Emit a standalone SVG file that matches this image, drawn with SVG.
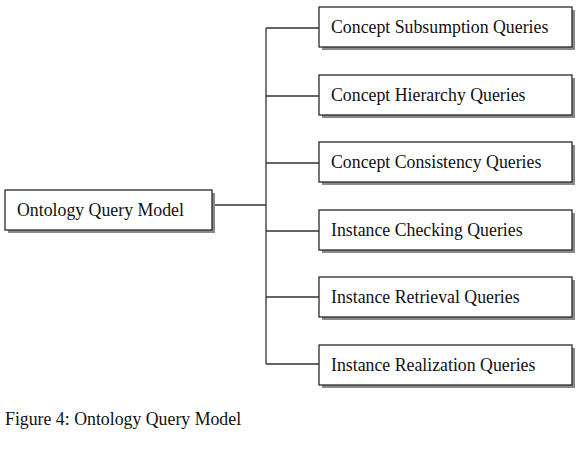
<svg xmlns="http://www.w3.org/2000/svg" width="588" height="454" viewBox="0 0 588 454">
<style>
.box{fill:#fff;stroke:#2a2a2a;stroke-width:1.3}
.sh{fill:#8a8a8a}
.t{font-family:"Liberation Serif","Times New Roman",serif;font-size:17.8px;fill:#111}
.ln{stroke:#333;stroke-width:1.3;fill:none}
</style>
<rect width="588" height="454" fill="#fff"/>
<g id="connectors">
<path class="ln" d="M212 205H266M266 28V364M266 28H319M266 96H319M266 163H319M266 231H319M266 297H319M266 364H319"/>
</g>
<g id="root">
<rect class="sh" x="8" y="193" width="207" height="40"/>
<rect class="box" x="5" y="190" width="207" height="40"/>
<text class="t" x="17" y="216">Ontology Query Model</text>
</g>
<g id="n1">
<rect class="sh" x="322" y="10" width="253" height="40"/>
<rect class="box" x="319" y="7" width="253" height="40"/>
<text class="t" x="331" y="33">Concept Subsumption Queries</text>
</g>
<g id="n2">
<rect class="sh" x="322" y="78" width="253" height="40"/>
<rect class="box" x="319" y="75" width="253" height="40"/>
<text class="t" x="331" y="101">Concept Hierarchy Queries</text>
</g>
<g id="n3">
<rect class="sh" x="322" y="145" width="253" height="40"/>
<rect class="box" x="319" y="142" width="253" height="40"/>
<text class="t" x="331" y="168">Concept Consistency Queries</text>
</g>
<g id="n4">
<rect class="sh" x="322" y="213" width="253" height="40"/>
<rect class="box" x="319" y="210" width="253" height="40"/>
<text class="t" x="331" y="236">Instance Checking Queries</text>
</g>
<g id="n5">
<rect class="sh" x="322" y="280" width="253" height="40"/>
<rect class="box" x="319" y="277" width="253" height="40"/>
<text class="t" x="331" y="303">Instance Retrieval Queries</text>
</g>
<g id="n6">
<rect class="sh" x="322" y="348" width="253" height="40"/>
<rect class="box" x="319" y="345" width="253" height="40"/>
<text class="t" x="331" y="371">Instance Realization Queries</text>
</g>
<text class="t" x="5" y="425">Figure 4: Ontology Query Model</text>
</svg>
